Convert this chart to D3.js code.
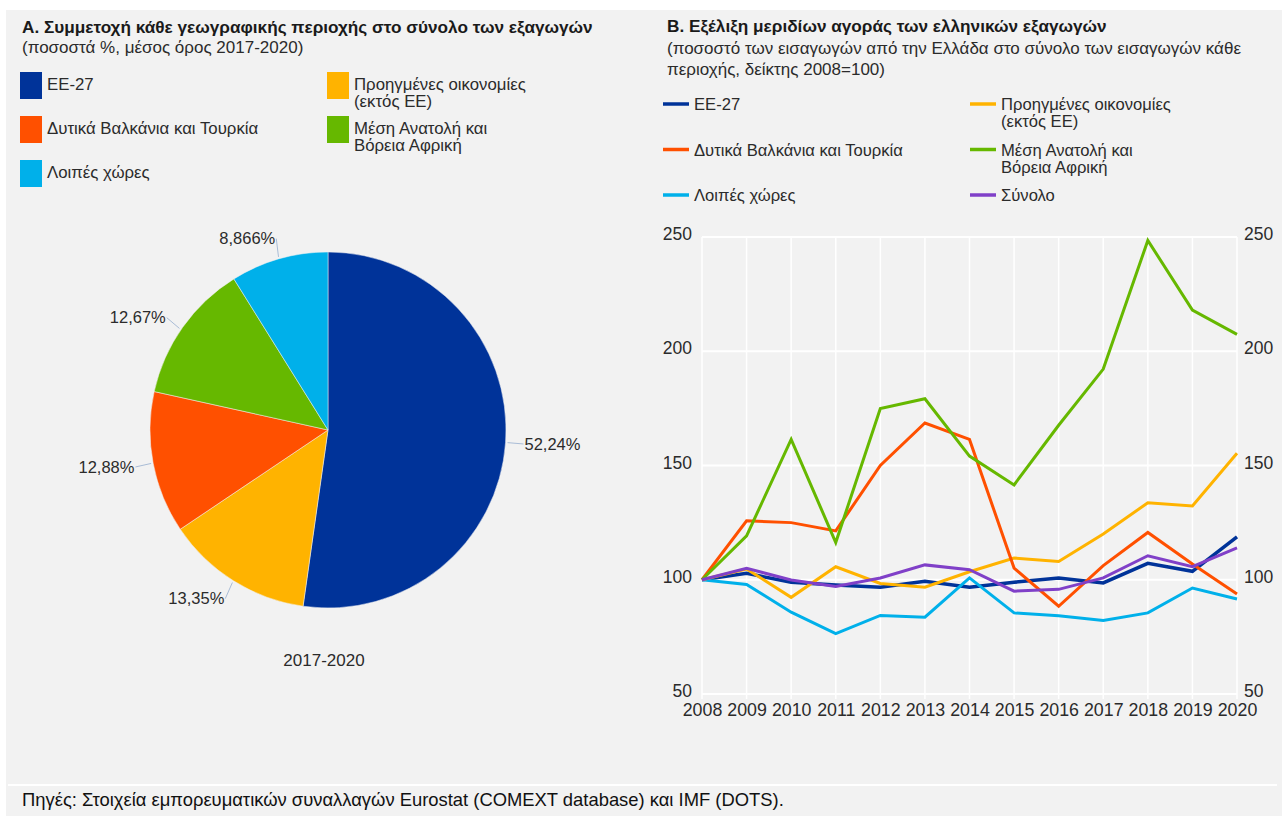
<!DOCTYPE html>
<html><head><meta charset="utf-8">
<script src="https://cdn.jsdelivr.net/npm/d3@7"></script>
<style>
html,body{margin:0;padding:0;background:#fff;}
svg{display:block;font-family:"Liberation Sans",Arial,sans-serif;}
</style></head>
<body>
<svg id="chart" width="1282" height="816"></svg>
<script>
// ---------- DATA ----------
const pieCategories = ["ΕΕ-27","Προηγμένες οικονομίες (εκτός ΕΕ)","Δυτικά Βαλκάνια και Τουρκία","Μέση Ανατολή και Βόρεια Αφρική","Λοιπές χώρες"];
const pieValues = [52.24, 13.35, 12.88, 12.67, 8.866];
const pieLabels = ["52,24%","13,35%","12,88%","12,67%","8,866%"];
const pieCaption = "2017-2020";

const years = [2008,2009,2010,2011,2012,2013,2014,2015,2016,2017,2018,2019,2020];
const seriesEE27     = [100,102.8,98.9,97.7,96.7,99.3,96.7,98.9,100.8,98.6,107.2,103.7,118.8];
const seriesBalkans  = [100,125.8,125.0,121.4,150.0,168.6,161.4,105.1,88.4,106.2,120.7,106.9,93.8];
const seriesAdvanced = [100,104.7,92.3,105.7,98.4,96.7,103.5,109.5,108.0,120.0,133.7,132.3,155.4];
const seriesMENA     = [100,119.2,161.4,116.3,174.9,179.2,154.1,141.5,167.6,192.2,248.5,218.0,207.4];
const seriesOther    = [100,97.9,85.8,76.4,84.4,83.6,100.8,85.5,84.2,82.2,85.5,96.4,91.6];
const seriesTotal    = [100,105.0,99.9,97.1,100.8,106.5,104.4,95.0,95.8,100.8,110.5,105.7,113.9];
const yTicks = [50,100,150,200,250];

const titleA = "Α. Συμμετοχή κάθε γεωγραφικής περιοχής στο σύνολο των εξαγωγών";
const subA = ["(ποσοστά %, μέσος όρος 2017-2020)"];
const titleB = "Β. Εξέλιξη μεριδίων αγοράς των ελληνικών εξαγωγών";
const subB = ["(ποσοστό των εισαγωγών από την Ελλάδα στο σύνολο των εισαγωγών κάθε","περιοχής, δείκτης 2008=100)"];
const source = "Πηγές: Στοιχεία εμπορευματικών συναλλαγών Eurostat (COMEXT database) και IMF (DOTS).";

// ---------- STYLE ----------
const C = {ee:"#003399", adv:"#ffb300", bal:"#ff5000", mena:"#66b800", oth:"#00b0ea", tot:"#8040c8"};
const pieColors = [C.ee, C.adv, C.bal, C.mena, C.oth];
const TXT = "#2b2b2b";

const svg = d3.select("#chart");
svg.append("rect").attr("x",6).attr("y",10).attr("width",1276).attr("height",806).attr("fill","#f2f2f2");

// ---------- PANEL A ----------
svg.append("text").attr("x",22).attr("y",33).attr("font-size",17.2).attr("font-weight","bold").attr("fill","#1a1a1a").text(titleA);
subA.forEach((s,i)=>svg.append("text").attr("x",22).attr("y",53+i*21).attr("font-size",17).attr("fill",TXT).text(s));

const legA = [
  {c:C.ee,  t:["ΕΕ-27"], col:0,row:0},
  {c:C.adv, t:["Προηγμένες οικονομίες","(εκτός ΕΕ)"], col:1,row:0},
  {c:C.bal, t:["Δυτικά Βαλκάνια και Τουρκία"], col:0,row:1},
  {c:C.mena,t:["Μέση Ανατολή και","Βόρεια Αφρική"], col:1,row:1},
  {c:C.oth, t:["Λοιπές χώρες"], col:0,row:2}
];
legA.forEach(d=>{
  const x0 = d.col? 327:20, y0 = 72 + d.row*44;
  svg.append("rect").attr("x",x0).attr("y",y0).attr("width",22).attr("height",27).attr("fill",d.c);
  d.t.forEach((s,i)=>svg.append("text").attr("x",x0+27).attr("y",y0+18+i*17).attr("font-size",16.8).attr("fill",TXT).text(s));
});

// pie
const cx=328, cy=430, R=178;
const pie = d3.pie().sort(null).value(d=>d)(pieValues);
const arc = d3.arc().innerRadius(0).outerRadius(R);
const gPie = svg.append("g").attr("transform",`translate(${cx},${cy})`);
gPie.selectAll("path").data(pie).join("path").attr("d",arc).attr("fill",(d,i)=>pieColors[i]).attr("stroke","#f2f2f2").attr("stroke-width",0.5);

const LR = R+21;
const labs = pie.map((d,i)=>{
  const a=(d.startAngle+d.endAngle)/2;
  return {i, a, right: Math.sin(a)>=0, y: -LR*Math.cos(a)};
});
const left = labs.filter(l=>!l.right).sort((p,q)=>p.y-q.y);
for(let k=1;k<left.length;k++){ if(left[k].y-left[k-1].y<79) left[k].y=left[k-1].y+79; }
labs.forEach(l=>{
  const dx=Math.sqrt(Math.max(0,LR*LR-l.y*l.y));
  l.x = l.right? dx : -dx;
  const ang=Math.atan2(l.x,-l.y);
  const ex=(R+2)*Math.sin(ang), ey=-(R+2)*Math.cos(ang);
  const tx=l.x+(l.right?-3:3), ty=l.y;
  gPie.append("line").attr("x1",ex).attr("y1",ey).attr("x2",tx).attr("y2",ty).attr("stroke","#a9bcd6").attr("stroke-width",1);
  gPie.append("text").attr("x",l.x+(l.right?-2:2)).attr("y",l.y).attr("dy","0.35em").attr("text-anchor",l.right?"start":"end")
    .attr("font-size",16.5).attr("fill",TXT).text(pieLabels[l.i]);
});
svg.append("text").attr("x",324).attr("y",666).attr("text-anchor","middle").attr("font-size",17).attr("fill",TXT).text(pieCaption);

// ---------- PANEL B ----------
svg.append("text").attr("x",667).attr("y",32).attr("font-size",17.2).attr("font-weight","bold").attr("fill","#1a1a1a").text(titleB);
subB.forEach((s,i)=>svg.append("text").attr("x",667).attr("y",54+i*21).attr("font-size",17).attr("fill",TXT).text(s));

const series = [
  {k:"ee",  name:["ΕΕ-27"], v:seriesEE27, c:C.ee, col:0,row:0, w:3.5},
  {k:"adv", name:["Προηγμένες οικονομίες","(εκτός ΕΕ)"], v:seriesAdvanced, c:C.adv, col:1,row:0, w:3},
  {k:"bal", name:["Δυτικά Βαλκάνια και Τουρκία"], v:seriesBalkans, c:C.bal, col:0,row:1, w:3},
  {k:"mena",name:["Μέση Ανατολή και","Βόρεια Αφρική"], v:seriesMENA, c:C.mena, col:1,row:1, w:3},
  {k:"oth", name:["Λοιπές χώρες"], v:seriesOther, c:C.oth, col:0,row:2, w:3},
  {k:"tot", name:["Σύνολο"], v:seriesTotal, c:C.tot, col:1,row:2, w:3}
];
series.forEach(d=>{
  const x0 = d.col? 970:663, y0 = 104 + d.row*45.5;
  svg.append("line").attr("x1",x0).attr("x2",x0+26).attr("y1",y0).attr("y2",y0).attr("stroke",d.c).attr("stroke-width",3.5);
  d.name.forEach((s,i)=>svg.append("text").attr("x",x0+31).attr("y",y0+6+i*17).attr("font-size",16.6).attr("fill",TXT).text(s));
});

const x = d3.scaleLinear().domain([years[0],years[years.length-1]]).range([702,1237]);
const y = d3.scaleLinear().domain([50,250]).range([694,237]);

const grid = svg.append("g");
grid.selectAll("line.v").data(years).join("line").attr("class","v")
  .attr("x1",d=>x(d)).attr("x2",d=>x(d)).attr("y1",y(250)).attr("y2",y(50)+5).attr("stroke","#fff").attr("stroke-width",1.5);
grid.selectAll("line.h").data(yTicks).join("line").attr("class","h")
  .attr("x1",x(2008)).attr("x2",x(2020)).attr("y1",d=>y(d)).attr("y2",d=>y(d)).attr("stroke","#fff").attr("stroke-width",2);

const axL = svg.append("g").attr("transform",`translate(${x(2008)-8},0)`).call(d3.axisLeft(y).tickValues(yTicks).tickSize(0).tickPadding(2));
const axR = svg.append("g").attr("transform",`translate(${x(2020)+5},0)`).call(d3.axisRight(y).tickValues(yTicks).tickSize(0).tickPadding(2));
const axB = svg.append("g").attr("transform",`translate(0,${y(50)+6})`).call(d3.axisBottom(x).tickValues(years).tickFormat(d3.format("d")).tickSize(0).tickPadding(3));
[axL,axR,axB].forEach(a=>{
  a.select(".domain").remove();
  a.selectAll("text").attr("font-size",17.5).attr("fill",TXT).attr("font-family","Liberation Sans, Arial, sans-serif");
});
axB.selectAll("text").attr("font-size",17.8);
axL.selectAll("text").attr("dy","0.15em");
axR.selectAll("text").attr("dy","0.15em");

const line = d3.line().x((d,i)=>x(years[i])).y(d=>y(d));
const drawOrder = ["ee","oth","adv","bal","mena","tot"];
drawOrder.forEach(k=>{
  const s = series.find(t=>t.k===k);
  svg.append("path").datum(s.v).attr("d",line).attr("fill","none").attr("stroke",s.c).attr("stroke-width",s.w).attr("stroke-linejoin","miter");
});

// footer
svg.append("line").attr("x1",8).attr("x2",1277).attr("y1",785).attr("y2",785).attr("stroke","#fff").attr("stroke-width",2);
svg.append("text").attr("x",22).attr("y",806).attr("font-size",18.4).attr("fill","#111").text(source);
</script>
</body></html>
